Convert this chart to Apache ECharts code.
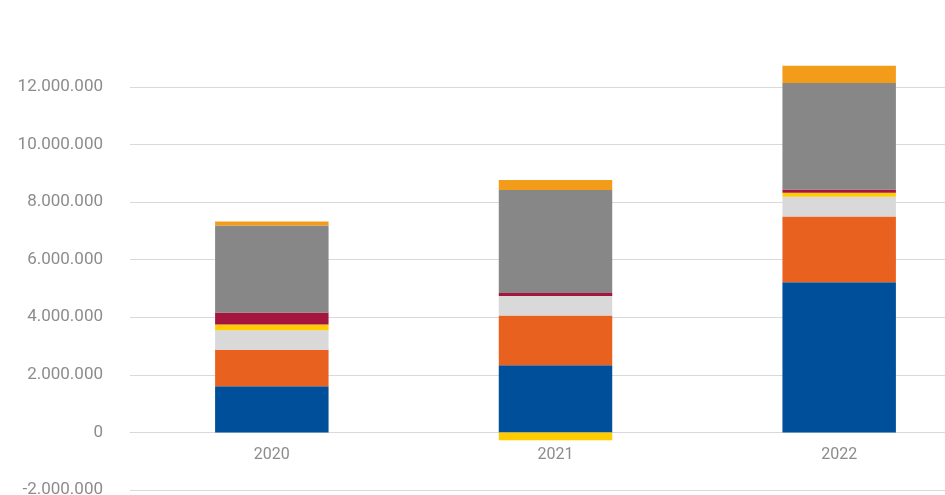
<!DOCTYPE html>
<html>
<head>
<meta charset="utf-8">
<script src="https://cdn.jsdelivr.net/npm/echarts@6/dist/echarts.min.js"></script>
<style>
  html, body { margin: 0; padding: 0; background: #fff; }
  #chart { width: 945px; height: 495px; }
</style>
</head>
<body>
<div id="chart"></div>
<script>
const years = ["2020", "2021", "2022"];
// stacked segments from bottom to top
const blueVals = [1600000, 2330000, 5210000];
const orangeVals = [1270000, 1730000, 2290000];
const lightGreyVals = [680000, 680000, 680000];
const yellowVals = [200000, -270000, 140000];
const crimsonVals = [410000, 100000, 110000];
const greyVals = [3020000, 3580000, 3700000];
const topOrangeVals = [140000, 340000, 600000];

const chart = echarts.init(document.getElementById("chart"));

const fmt = (v) => {
  const s = Math.abs(v).toString().replace(/\B(?=(\d{3})+(?!\d))/g, ".");
  return v < 0 ? "-" + s : s;
};

const mk = (name, data, color) => ({
  name,
  type: "bar",
  stack: "total",
  barWidth: "40%",
  data,
  itemStyle: { color },
});

chart.setOption({
  animation: false,
  grid: { left: 130, right: -36, top: 58, bottom: 5, containLabel: false, outerBoundsMode: "none" },
  xAxis: {
    type: "category",
    data: years,
    // axis sits on the zero line: 2.000.000 above the bottom of the grid
    offset: -57.6,
    axisLine: { onZero: false, lineStyle: { color: "#d9d9d9", width: 1 } },
    axisTick: { show: false },
    axisLabel: { color: "#8c8c8c", fontSize: 16, fontFamily: "Roboto", margin: 15 },
  },
  yAxis: {
    type: "value",
    min: -2000000,
    max: 13000000,
    interval: 2000000,
    axisLine: { show: false },
    axisTick: { show: false },
    axisLabel: {
      color: "#8c8c8c",
      fontSize: 17,
      fontFamily: "Roboto",
      margin: 27,
      showMaxLabel: false,
      formatter: fmt,
    },
    splitLine: { showMaxLine: false, lineStyle: { color: "#d9d9d9", width: 1 } },
  },
  series: [
    mk("blue", blueVals, "#004f9a"),
    mk("orange", orangeVals, "#e9611e"),
    mk("lightgrey", lightGreyVals, "#d9d9d9"),
    mk("yellow", yellowVals, "#ffcc00"),
    mk("crimson", crimsonVals, "#a4163f"),
    mk("grey", greyVals, "#878787"),
    mk("toporange", topOrangeVals, "#f39c1a"),
  ],
});
</script>
</body>
</html>
